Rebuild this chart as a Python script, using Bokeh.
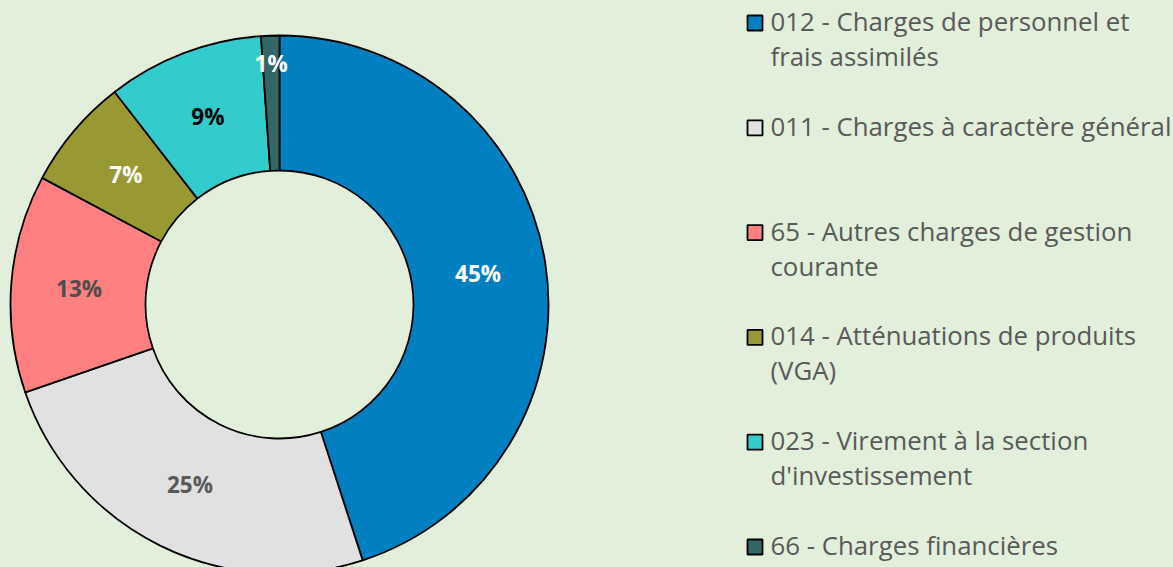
import math
from bokeh.plotting import figure
from bokeh.models import Range1d, ColumnDataSource
from bokeh.core.properties import value
from bokeh.embed import file_html
from bokeh.resources import INLINE

# ---- data ----
categories = [
    "012 - Charges de personnel et\nfrais assimilés",
    "011 - Charges à caractère général",
    "65 - Autres charges de gestion\ncourante",
    "014 - Atténuations de produits\n(VGA)",
    "023 - Virement à la section\nd'investissement",
    "66 - Charges financières",
]
shares = [45.0, 24.7, 13.1, 6.7, 9.4, 1.1]
colors = ["#0080C0", "#E1E1E1", "#FF8080", "#999933", "#33CCCC", "#336666"]
label_colors = ["#FFFFFF", "#595959", "#4D4D4D", "#FFFFFF", "#000000", "#FFFFFF"]

# ---- layout (pixels) ----
W, H = 1173, 567
BG = "#E2EFDA"
cx, cy = 279, 263          # donut centre
r_out, r_in = 269, 134
label_r = [201, 201, 201, 201, 201, 241]

total = sum(shares)
starts, ends, lx, ly, labels = [], [], [], [], []
cum = 0.0
for i, v in enumerate(shares):
    a0 = math.pi / 2 - 2 * math.pi * cum / total
    cum += v
    a1 = math.pi / 2 - 2 * math.pi * cum / total
    starts.append(a0)
    ends.append(a1)
    mid = (a0 + a1) / 2
    lx.append(cx + label_r[i] * math.cos(mid))
    ly.append(cy + label_r[i] * math.sin(mid))
    labels.append(f"{round(v / total * 100)}%")

src = ColumnDataSource(dict(start=starts, end=ends, color=colors,
                            lx=lx, ly=ly, label=labels, lcol=label_colors))

p = figure(width=W, height=H, x_range=Range1d(0, W), y_range=Range1d(0, H),
           output_backend="svg", toolbar_location=None,
           x_axis_type=None, y_axis_type=None, min_border=0)
p.grid.visible = False
p.outline_line_color = None
p.background_fill_color = BG
p.border_fill_color = BG

p.annular_wedge(x=cx, y=cy, inner_radius=r_in, outer_radius=r_out,
                start_angle="start", end_angle="end", direction="clock",
                fill_color="color", line_color="black", line_width=1.8,
                source=src)

p.text(x="lx", y="ly", text="label", text_color="lcol",
       text_font=value("Open Sans"), text_font_style="bold",
       text_font_size="22.5px", text_align="center", text_baseline="middle",
       source=src)

# ---- legend ----
leg_sq_x = 754.5
leg_tx = 770
top_ref = 22.5
text_lift = 2.0
step = 104.8
line_gap = 35.0
sq_x, sq_y, tx, ty, tt = [], [], [], [], []
for i, cat in enumerate(categories):
    y0 = H - (top_ref + i * step)
    sq_x.append(leg_sq_x)
    sq_y.append(y0)
    for j, line in enumerate(cat.split("\n")):
        tx.append(leg_tx)
        ty.append(y0 + text_lift - j * line_gap)
        tt.append(line)

p.rect(x=sq_x, y=sq_y, width=15, height=15, fill_color=colors,
       line_color="black", line_width=1.8)
p.text(x=tx, y=ty, text=tt, text_color="#595959",
       text_font=value("Open Sans"), text_font_size="25.8px",
       text_align="left", text_baseline="middle")

html = file_html(p, INLINE)
html = html.replace("</head>", "<style>body{background-color:%s;}</style></head>" % BG, 1)
open("out.html", "w").write(html)
